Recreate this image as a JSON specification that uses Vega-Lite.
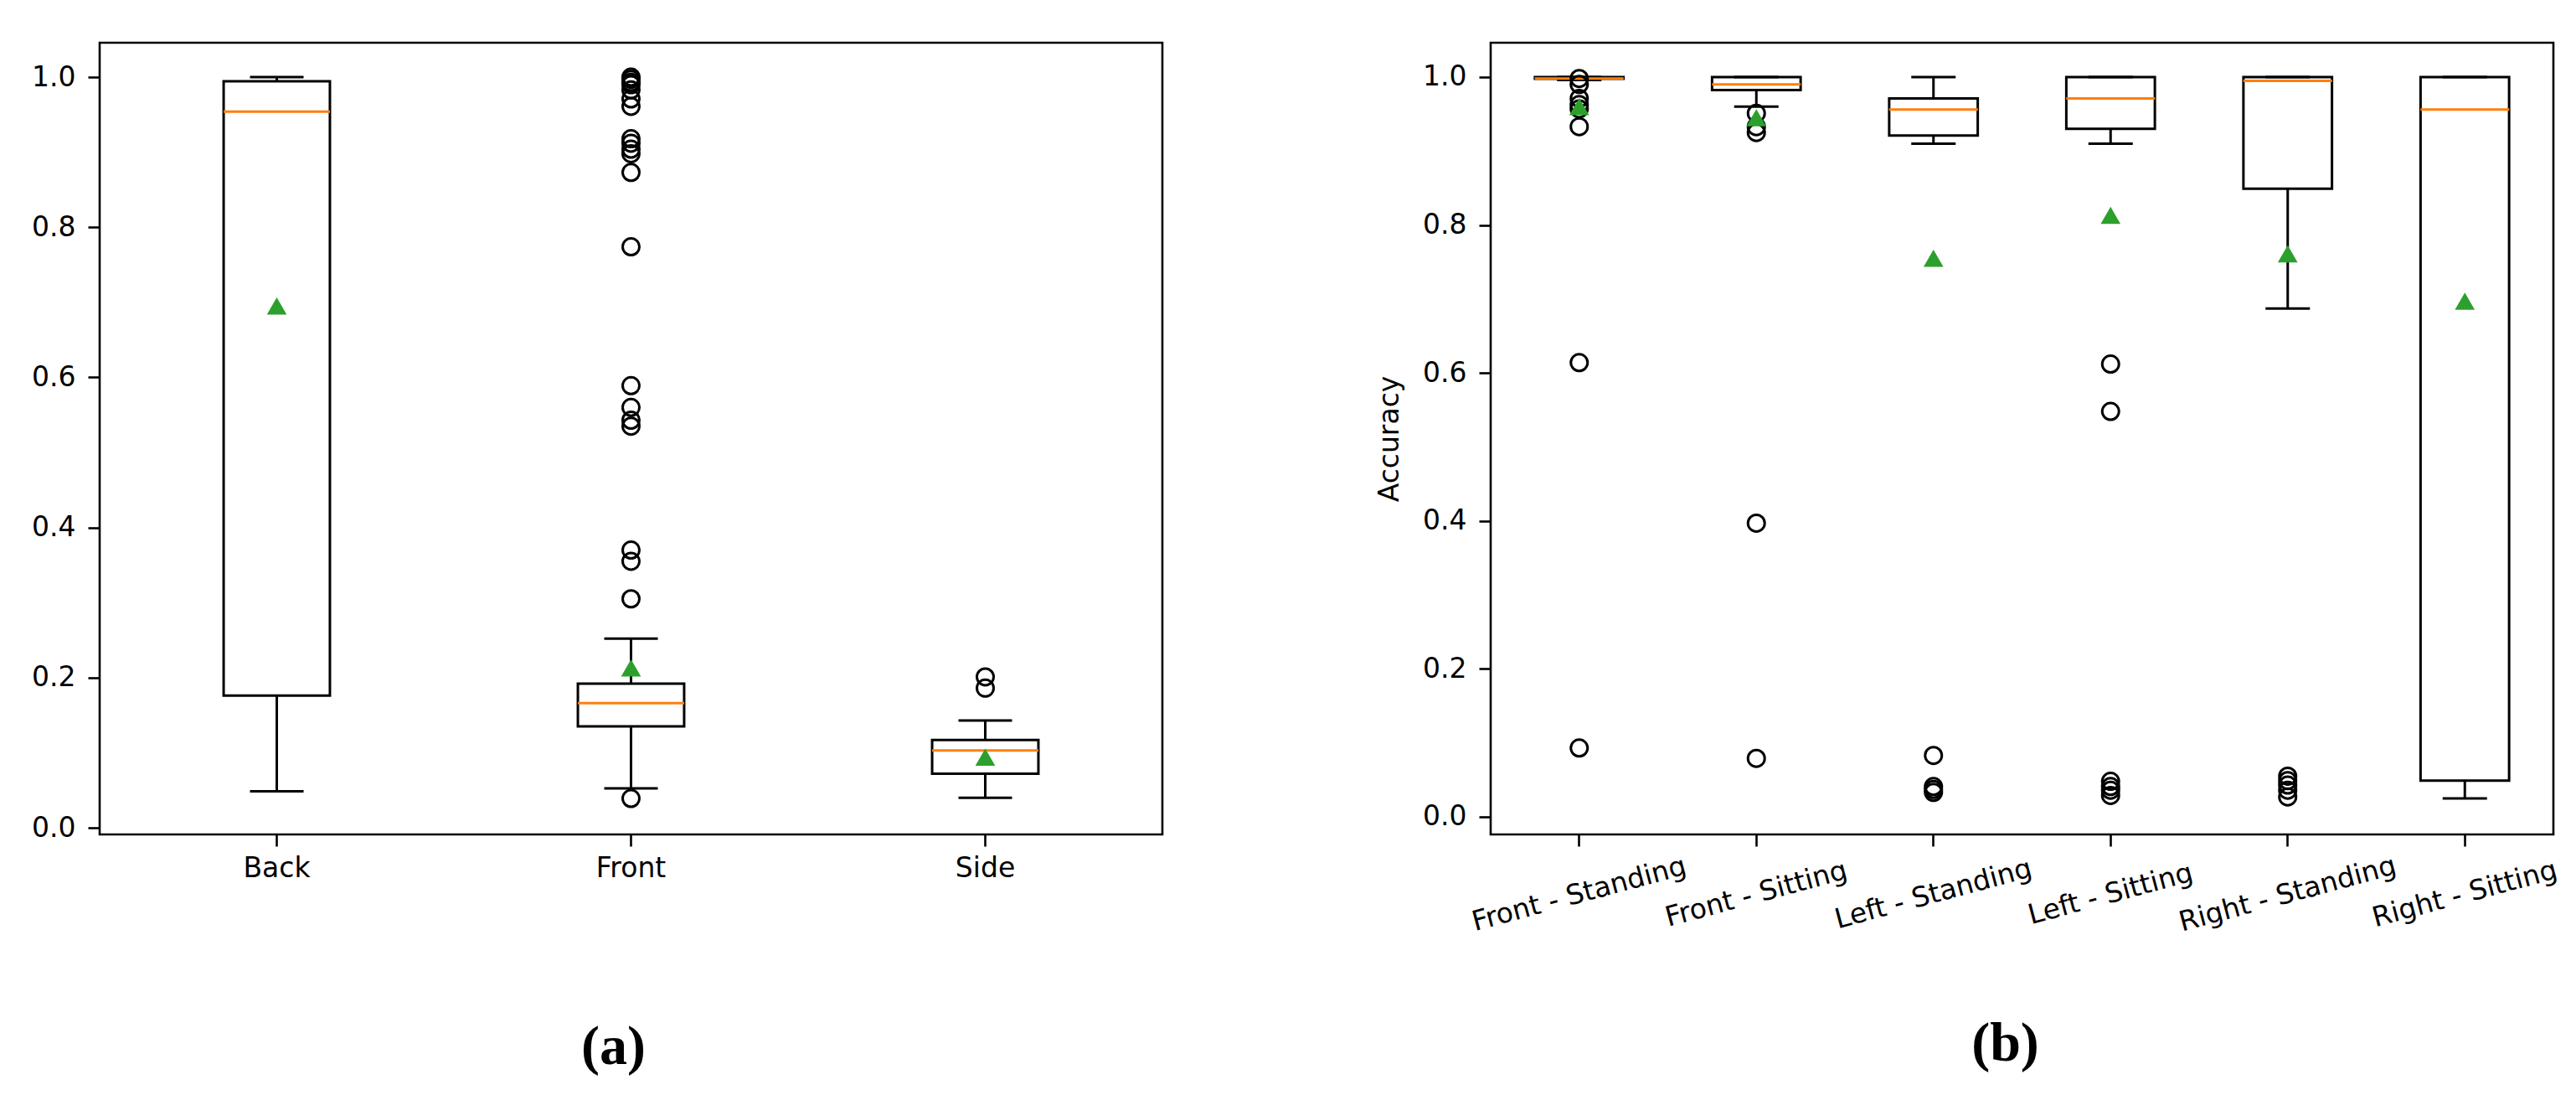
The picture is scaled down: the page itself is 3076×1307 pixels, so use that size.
{
  "$schema": "https://vega.github.io/schema/vega-lite/v6.json",
  "padding": {"left": 35, "top": 49, "right": 0, "bottom": 0},
  "spacing": 251,
  "background": "white",
  "datasets": {
    "a": [
      {"cat": "Back", "lower": 0.0486, "q1": 0.176, "median": 0.954, "q3": 0.9945, "upper": 1.0, "mean": 0.695},
      {"cat": "Front", "lower": 0.0525, "q1": 0.135, "median": 0.166, "q3": 0.192, "upper": 0.252, "mean": 0.213},
      {"cat": "Side", "lower": 0.040, "q1": 0.072, "median": 0.103, "q3": 0.117, "upper": 0.143, "mean": 0.094}
    ],
    "a_out": [
      {"cat": "Front", "value": 1.0},
      {"cat": "Front", "value": 0.997},
      {"cat": "Front", "value": 0.993},
      {"cat": "Front", "value": 0.99},
      {"cat": "Front", "value": 0.983},
      {"cat": "Front", "value": 0.971},
      {"cat": "Front", "value": 0.961},
      {"cat": "Front", "value": 0.918},
      {"cat": "Front", "value": 0.912},
      {"cat": "Front", "value": 0.904},
      {"cat": "Front", "value": 0.898},
      {"cat": "Front", "value": 0.873},
      {"cat": "Front", "value": 0.774},
      {"cat": "Front", "value": 0.589},
      {"cat": "Front", "value": 0.560},
      {"cat": "Front", "value": 0.543},
      {"cat": "Front", "value": 0.535},
      {"cat": "Front", "value": 0.370},
      {"cat": "Front", "value": 0.355},
      {"cat": "Front", "value": 0.305},
      {"cat": "Front", "value": 0.039},
      {"cat": "Side", "value": 0.201},
      {"cat": "Side", "value": 0.186}
    ],
    "b": [
      {"cat": "Front - Standing", "lower": 0.996, "q1": 0.9976, "median": 0.998, "q3": 1.0, "upper": 1.0, "mean": 0.960},
      {"cat": "Front - Sitting", "lower": 0.960, "q1": 0.9825, "median": 0.990, "q3": 1.0, "upper": 1.0, "mean": 0.945},
      {"cat": "Left - Standing", "lower": 0.910, "q1": 0.921, "median": 0.956, "q3": 0.971, "upper": 1.0, "mean": 0.755},
      {"cat": "Left - Sitting", "lower": 0.910, "q1": 0.930, "median": 0.971, "q3": 1.0, "upper": 1.0, "mean": 0.813},
      {"cat": "Right - Standing", "lower": 0.687, "q1": 0.849, "median": 0.995, "q3": 1.0, "upper": 1.0, "mean": 0.761},
      {"cat": "Right - Sitting", "lower": 0.025, "q1": 0.049, "median": 0.956, "q3": 1.0, "upper": 1.0, "mean": 0.697}
    ],
    "b_out": [
      {"cat": "Front - Standing", "value": 0.998},
      {"cat": "Front - Standing", "value": 0.990},
      {"cat": "Front - Standing", "value": 0.971},
      {"cat": "Front - Standing", "value": 0.963},
      {"cat": "Front - Standing", "value": 0.957},
      {"cat": "Front - Standing", "value": 0.933},
      {"cat": "Front - Standing", "value": 0.614},
      {"cat": "Front - Standing", "value": 0.093},
      {"cat": "Front - Sitting", "value": 0.951},
      {"cat": "Front - Sitting", "value": 0.933},
      {"cat": "Front - Sitting", "value": 0.925},
      {"cat": "Front - Sitting", "value": 0.397},
      {"cat": "Front - Sitting", "value": 0.079},
      {"cat": "Left - Standing", "value": 0.083},
      {"cat": "Left - Standing", "value": 0.041},
      {"cat": "Left - Standing", "value": 0.037},
      {"cat": "Left - Standing", "value": 0.033},
      {"cat": "Left - Sitting", "value": 0.612},
      {"cat": "Left - Sitting", "value": 0.548},
      {"cat": "Left - Sitting", "value": 0.048},
      {"cat": "Left - Sitting", "value": 0.041},
      {"cat": "Left - Sitting", "value": 0.036},
      {"cat": "Left - Sitting", "value": 0.029},
      {"cat": "Right - Standing", "value": 0.055},
      {"cat": "Right - Standing", "value": 0.049},
      {"cat": "Right - Standing", "value": 0.043},
      {"cat": "Right - Standing", "value": 0.036},
      {"cat": "Right - Standing", "value": 0.027}
    ]
  },
  "hconcat": [
    {
      "width": 1269,
      "height": 945,
      "title": {"text": "(a)", "orient": "bottom", "anchor": "middle", "dx": -21, "offset": 165, "baseline": "top", "font": "Liberation Serif", "fontSize": 66, "fontWeight": "bold", "color": "black"},
      "encoding": {
        "x": {"field": "cat", "type": "nominal", "sort": ["Back", "Front", "Side"], "scale": {"paddingInner": 0.7, "paddingOuter": 0.35}, "axis": {"labelAngle": 0, "title": null, "labelPadding": 10}, "title": null}
      },
      "layer": [
        {"data": {"name": "a"}, "mark": {"type": "rule", "color": "black", "strokeWidth": 3},
         "encoding": {"y": {"field": "lower", "type": "quantitative", "title": null, "scale": {"domain": [-0.0089, 1.0458], "nice": false, "zero": false}, "axis": {"values": [0, 0.2, 0.4, 0.6, 0.8, 1.0], "format": ".1f", "title": null}}, "y2": {"field": "q1"}}},
        {"data": {"name": "a"}, "mark": {"type": "rule", "color": "black", "strokeWidth": 3},
         "encoding": {"y": {"field": "q3", "type": "quantitative", "title": null, "scale": {"domain": [-0.0089, 1.0458], "nice": false, "zero": false}, "axis": {"values": [0, 0.2, 0.4, 0.6, 0.8, 1.0], "format": ".1f", "title": null}}, "y2": {"field": "upper"}}},
        {"data": {"name": "a"}, "mark": {"type": "bar", "fill": "white", "fillOpacity": 0, "stroke": "black", "strokeWidth": 3},
         "encoding": {"y": {"field": "q1", "type": "quantitative", "title": null, "scale": {"domain": [-0.0089, 1.0458], "nice": false, "zero": false}, "axis": {"values": [0, 0.2, 0.4, 0.6, 0.8, 1.0], "format": ".1f", "title": null}}, "y2": {"field": "q3"}}},
        {"data": {"name": "a"}, "mark": {"type": "tick", "color": "black", "size": 64, "thickness": 3, "opacity": 1},
         "encoding": {"y": {"field": "lower", "type": "quantitative", "title": null, "scale": {"domain": [-0.0089, 1.0458], "nice": false, "zero": false}, "axis": {"values": [0, 0.2, 0.4, 0.6, 0.8, 1.0], "format": ".1f", "title": null}}}},
        {"data": {"name": "a"}, "mark": {"type": "tick", "color": "black", "size": 64, "thickness": 3, "opacity": 1},
         "encoding": {"y": {"field": "upper", "type": "quantitative", "title": null, "scale": {"domain": [-0.0089, 1.0458], "nice": false, "zero": false}, "axis": {"values": [0, 0.2, 0.4, 0.6, 0.8, 1.0], "format": ".1f", "title": null}}}},
        {"data": {"name": "a"}, "mark": {"type": "tick", "color": "#ff7f0e", "size": 127, "thickness": 3, "opacity": 1},
         "encoding": {"y": {"field": "median", "type": "quantitative", "title": null, "scale": {"domain": [-0.0089, 1.0458], "nice": false, "zero": false}, "axis": {"values": [0, 0.2, 0.4, 0.6, 0.8, 1.0], "format": ".1f", "title": null}}}},
        {"data": {"name": "a_out"}, "mark": {"type": "point", "shape": "circle", "filled": false, "stroke": "black", "strokeWidth": 3, "size": 400, "opacity": 1},
         "encoding": {"y": {"field": "value", "type": "quantitative", "title": null, "scale": {"domain": [-0.0089, 1.0458], "nice": false, "zero": false}, "axis": {"values": [0, 0.2, 0.4, 0.6, 0.8, 1.0], "format": ".1f", "title": null}}}},
        {"data": {"name": "a"}, "mark": {"type": "point", "shape": "triangle-up", "filled": true, "color": "#2ca02c", "size": 560, "opacity": 1},
         "encoding": {"y": {"field": "mean", "type": "quantitative", "title": null, "scale": {"domain": [-0.0089, 1.0458], "nice": false, "zero": false}, "axis": {"values": [0, 0.2, 0.4, 0.6, 0.8, 1.0], "format": ".1f", "title": null}}}}
      ]
    },
    {
      "width": 1269,
      "height": 945,
      "title": {"text": "(b)", "orient": "bottom", "anchor": "middle", "dx": -20, "offset": 96, "baseline": "top", "font": "Liberation Serif", "fontSize": 66, "fontWeight": "bold", "color": "black"},
      "encoding": {
        "x": {"field": "cat", "type": "nominal", "sort": ["Front - Standing", "Front - Sitting", "Left - Standing", "Left - Sitting", "Right - Standing", "Right - Sitting"], "scale": {"paddingInner": 0.5, "paddingOuter": 0.25}, "axis": {"labelAngle": -15, "labelAlign": "center", "labelBaseline": "middle", "labelPadding": 57, "labelLimit": 0, "labelOverlap": false, "title": null}, "title": null}
      },
      "layer": [
        {"data": {"name": "b"}, "mark": {"type": "rule", "color": "black", "strokeWidth": 3},
         "encoding": {"y": {"field": "lower", "type": "quantitative", "title": "Accuracy", "scale": {"domain": [-0.0238, 1.0464], "nice": false, "zero": false}, "axis": {"values": [0, 0.2, 0.4, 0.6, 0.8, 1.0], "format": ".1f", "title": "Accuracy"}}, "y2": {"field": "q1"}}},
        {"data": {"name": "b"}, "mark": {"type": "rule", "color": "black", "strokeWidth": 3},
         "encoding": {"y": {"field": "q3", "type": "quantitative", "title": "Accuracy", "scale": {"domain": [-0.0238, 1.0464], "nice": false, "zero": false}, "axis": {"values": [0, 0.2, 0.4, 0.6, 0.8, 1.0], "format": ".1f", "title": "Accuracy"}}, "y2": {"field": "upper"}}},
        {"data": {"name": "b"}, "mark": {"type": "bar", "fill": "white", "fillOpacity": 0, "stroke": "black", "strokeWidth": 3},
         "encoding": {"y": {"field": "q1", "type": "quantitative", "title": "Accuracy", "scale": {"domain": [-0.0238, 1.0464], "nice": false, "zero": false}, "axis": {"values": [0, 0.2, 0.4, 0.6, 0.8, 1.0], "format": ".1f", "title": "Accuracy"}}, "y2": {"field": "q3"}}},
        {"data": {"name": "b"}, "mark": {"type": "tick", "color": "black", "size": 53, "thickness": 3, "opacity": 1},
         "encoding": {"y": {"field": "lower", "type": "quantitative", "title": "Accuracy", "scale": {"domain": [-0.0238, 1.0464], "nice": false, "zero": false}, "axis": {"values": [0, 0.2, 0.4, 0.6, 0.8, 1.0], "format": ".1f", "title": "Accuracy"}}}},
        {"data": {"name": "b"}, "mark": {"type": "tick", "color": "black", "size": 53, "thickness": 3, "opacity": 1},
         "encoding": {"y": {"field": "upper", "type": "quantitative", "title": "Accuracy", "scale": {"domain": [-0.0238, 1.0464], "nice": false, "zero": false}, "axis": {"values": [0, 0.2, 0.4, 0.6, 0.8, 1.0], "format": ".1f", "title": "Accuracy"}}}},
        {"data": {"name": "b"}, "mark": {"type": "tick", "color": "#ff7f0e", "size": 106, "thickness": 3, "opacity": 1},
         "encoding": {"y": {"field": "median", "type": "quantitative", "title": "Accuracy", "scale": {"domain": [-0.0238, 1.0464], "nice": false, "zero": false}, "axis": {"values": [0, 0.2, 0.4, 0.6, 0.8, 1.0], "format": ".1f", "title": "Accuracy"}}}},
        {"data": {"name": "b_out"}, "mark": {"type": "point", "shape": "circle", "filled": false, "stroke": "black", "strokeWidth": 3, "size": 400, "opacity": 1},
         "encoding": {"y": {"field": "value", "type": "quantitative", "title": "Accuracy", "scale": {"domain": [-0.0238, 1.0464], "nice": false, "zero": false}, "axis": {"values": [0, 0.2, 0.4, 0.6, 0.8, 1.0], "format": ".1f", "title": "Accuracy"}}}},
        {"data": {"name": "b"}, "mark": {"type": "point", "shape": "triangle-up", "filled": true, "color": "#2ca02c", "size": 560, "opacity": 1},
         "encoding": {"y": {"field": "mean", "type": "quantitative", "title": "Accuracy", "scale": {"domain": [-0.0238, 1.0464], "nice": false, "zero": false}, "axis": {"values": [0, 0.2, 0.4, 0.6, 0.8, 1.0], "format": ".1f", "title": "Accuracy"}}}}
      ]
    }
  ],
  "config": {
    "font": "DejaVu Sans",
    "view": {"stroke": "black", "strokeWidth": 2.6},
    "axis": {
      "labelFont": "DejaVu Sans",
      "labelFontSize": 33,
      "labelColor": "black",
      "tickColor": "black",
      "tickSize": 14,
      "tickWidth": 2.6,
      "domain": false,
      "grid": false,
      "titleFont": "DejaVu Sans",
      "titleFontSize": 33,
      "titleFontWeight": "normal",
      "titleColor": "black"
    },
    "axisY": {"labelPadding": 15, "minExtent": 82, "maxExtent": 82, "titlePadding": 22},
    "axisX": {"labelPadding": 10}
  }
}
